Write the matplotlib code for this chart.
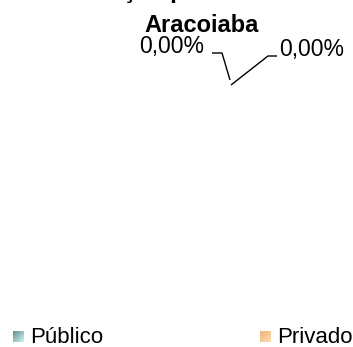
import matplotlib
matplotlib.use("Agg")
import matplotlib.pyplot as plt
import numpy as np

# Data
categories = ["Público", "Privado"]
values = [0.0, 0.0]
title_line1 = "Distribuição por Rede Escolar"
title_line2 = "Aracoiaba"

W, H = 353, 347
fig = plt.figure(figsize=(W / 100, H / 100), dpi=100)
ax = fig.add_axes([0, 0, 1, 1])
ax.set_xlim(0, W)
ax.set_ylim(H, 0)
ax.axis("off")

font = "Liberation Sans"

# Title (first line is cut off at top in reference)
ax.text(27, -2, title_line1, fontsize=17, fontweight="bold", family=font,
        ha="left", va="baseline", color="black")
ax.text(202, 32, title_line2, fontsize=17, fontweight="bold", family=font,
        ha="center", va="baseline", color="black")

def fmt(v):
    return f"{v:.2f}%".replace(".", ",")

# Data labels with leader lines (pie of all-zero values)
lab_pos = [(204, 53, "right"), (279, 56, "left")]
leaders = [[(212, 53), (222, 53), (230, 80)],
           [(231, 85), (268, 56), (277, 56)]]
for v, (x, y, ha), pts in zip(values, lab_pos, leaders):
    ax.text(x, y, fmt(v), fontsize=16.5, family=font, ha=ha, va="baseline",
            color="black")
    xs, ys = zip(*pts)
    ax.plot(xs, ys, color="black", lw=1.0, solid_capstyle="butt")

# Legend with gradient markers
grad_colors = [((0.42, 0.55, 0.55), (0.78, 0.97, 0.97)),
               ((0.93, 0.70, 0.48), (1.0, 0.86, 0.70))]
leg_x = [13, 260]
for name, (c1, c2), x0 in zip(categories, grad_colors, leg_x):
    n = 20
    t = np.linspace(0, 1, n)
    tt = (t[None, :] + t[:, None]) / 2
    img = np.zeros((n, n, 3))
    for k in range(3):
        img[:, :, k] = c1[k] + (c2[k] - c1[k]) * tt
    ax.imshow(img, extent=(x0, x0 + 11, 342, 331), interpolation="bilinear",
              zorder=2)
    ax.text(x0 + 17, 343, name, fontsize=16, family=font, ha="left",
            va="baseline", color="black")

ax.set_xlim(0, W)
ax.set_ylim(H, 0)
ax.set_aspect("auto")
fig.savefig("out.png", dpi=100)
